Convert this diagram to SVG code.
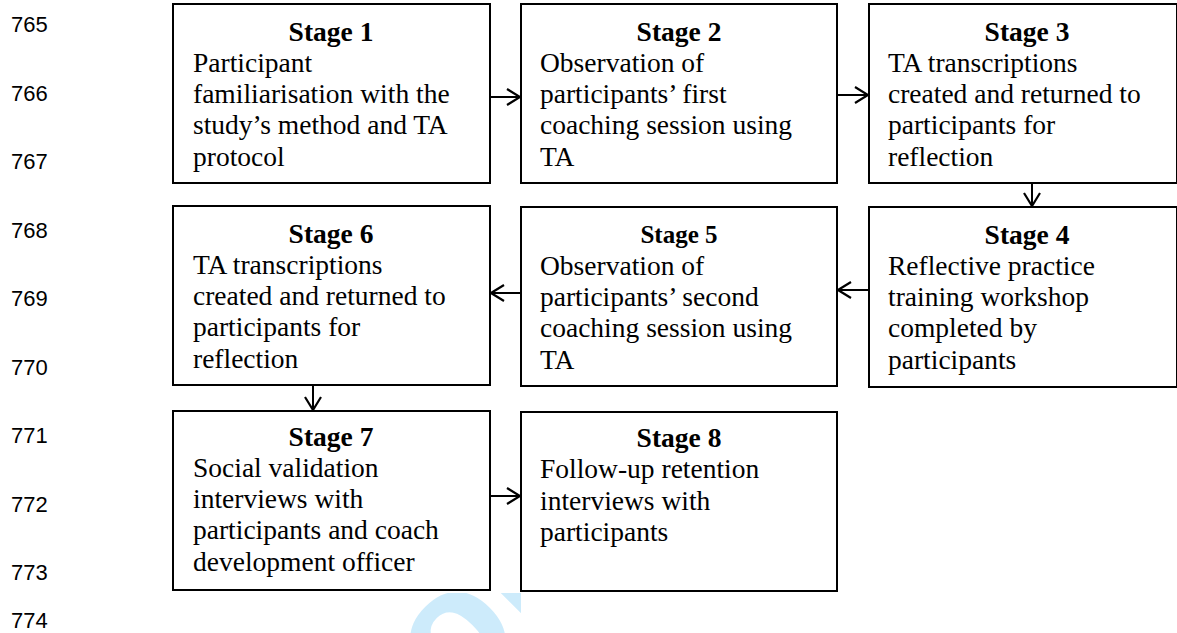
<svg xmlns="http://www.w3.org/2000/svg" width="1177" height="633" viewBox="0 0 1177 633">
<defs>
<style>
.box{fill:#fff;stroke:#000;stroke-width:2}
.t{font-family:"Liberation Serif","Times New Roman",serif;font-size:27.5px;fill:#000}
.h{font-weight:bold;text-anchor:middle}
.ln{font-family:"Liberation Sans",Arial,sans-serif;font-size:22px;fill:#000}
.c{fill:none;stroke:#000;stroke-width:2}
.wm{font-family:"Liberation Sans",Arial,sans-serif;font-weight:bold;font-size:170px;fill:#cdebfb}
</style>
<marker id="ah" viewBox="0 0 16 20" refX="14.5" refY="10" markerWidth="16" markerHeight="20" markerUnits="userSpaceOnUse" orient="auto">
<path d="M1.5,2 L14.5,10 L1.5,18" fill="none" stroke="#000" stroke-width="2.2"/>
</marker>
<clipPath id="wmclip"><rect x="380" y="593" width="141" height="40"/></clipPath>
</defs>
<rect width="1177" height="633" fill="#fff"/>
<g id="watermark" clip-path="url(#wmclip)">
<text class="wm" transform="translate(379.5,782) rotate(-45)">For Peer Review</text>
</g>
<g id="line-numbers" class="ln">
<text x="11" y="32">765</text>
<text x="11" y="101">766</text>
<text x="11" y="169">767</text>
<text x="11" y="238">768</text>
<text x="11" y="306">769</text>
<text x="11" y="375">770</text>
<text x="11" y="443">771</text>
<text x="11" y="512">772</text>
<text x="11" y="580">773</text>
<text x="11" y="628">774</text>
</g>
<g id="connectors">
<line class="c" x1="490" y1="97" x2="520" y2="97" marker-end="url(#ah)"/>
<line class="c" x1="837" y1="95" x2="868" y2="95" marker-end="url(#ah)"/>
<line class="c" x1="1032" y1="183" x2="1032" y2="206" marker-end="url(#ah)"/>
<line class="c" x1="869" y1="290" x2="838" y2="290" marker-end="url(#ah)"/>
<line class="c" x1="521" y1="293" x2="491" y2="293" marker-end="url(#ah)"/>
<line class="c" x1="313" y1="385" x2="313" y2="410" marker-end="url(#ah)"/>
<line class="c" x1="490" y1="496" x2="520" y2="496" marker-end="url(#ah)"/>
</g>
<g id="stage1">
<rect class="box" x="173" y="4" width="317" height="179"/>
<text class="t h" x="331" y="40.5">Stage 1</text>
<text class="t" x="193" y="71.8">Participant</text>
<text class="t" x="193" y="103.1">familiarisation with the</text>
<text class="t" x="193" y="134.4">study’s method and TA</text>
<text class="t" x="193" y="165.7">protocol</text>
</g>
<g id="stage2">
<rect class="box" x="521" y="4" width="316" height="179"/>
<text class="t h" x="679" y="40.5">Stage 2</text>
<text class="t" x="540" y="71.8">Observation of</text>
<text class="t" x="540" y="103.1">participants’ first</text>
<text class="t" x="540" y="134.4">coaching session using</text>
<text class="t" x="540" y="165.7">TA</text>
</g>
<g id="stage3">
<rect class="box" x="869" y="4" width="308" height="179"/>
<text class="t h" x="1027" y="40.5">Stage 3</text>
<text class="t" x="888" y="71.8">TA transcriptions</text>
<text class="t" x="888" y="103.1">created and returned to</text>
<text class="t" x="888" y="134.4">participants for</text>
<text class="t" x="888" y="165.7">reflection</text>
</g>
<g id="stage4">
<rect class="box" x="869" y="207" width="308" height="180"/>
<text class="t h" x="1027" y="243.5">Stage 4</text>
<text class="t" x="888" y="274.8">Reflective practice</text>
<text class="t" x="888" y="306.1">training workshop</text>
<text class="t" x="888" y="337.4">completed by</text>
<text class="t" x="888" y="368.7">participants</text>
</g>
<g id="stage5">
<rect class="box" x="521" y="207" width="316" height="179"/>
<text class="t h" x="679" y="242.5" style="font-size:25px">Stage 5</text>
<text class="t" x="540" y="274.8">Observation of</text>
<text class="t" x="540" y="306.1">participants’ second</text>
<text class="t" x="540" y="337.4">coaching session using</text>
<text class="t" x="540" y="368.7">TA</text>
</g>
<g id="stage6">
<rect class="box" x="173" y="206" width="317" height="179"/>
<text class="t h" x="331" y="242.5">Stage 6</text>
<text class="t" x="193" y="273.8">TA transcriptions</text>
<text class="t" x="193" y="305.1">created and returned to</text>
<text class="t" x="193" y="336.4">participants for</text>
<text class="t" x="193" y="367.7">reflection</text>
</g>
<g id="stage7">
<rect class="box" x="173" y="411" width="317" height="179"/>
<text class="t h" x="331" y="445.5">Stage 7</text>
<text class="t" x="193" y="476.8">Social validation</text>
<text class="t" x="193" y="508.1">interviews with</text>
<text class="t" x="193" y="539.4">participants and coach</text>
<text class="t" x="193" y="570.7">development officer</text>
</g>
<g id="stage8">
<rect class="box" x="521" y="412" width="316" height="179"/>
<text class="t h" x="679" y="447">Stage 8</text>
<text class="t" x="540" y="478.3">Follow-up retention</text>
<text class="t" x="540" y="509.6">interviews with</text>
<text class="t" x="540" y="540.9">participants</text>
</g>
</svg>
